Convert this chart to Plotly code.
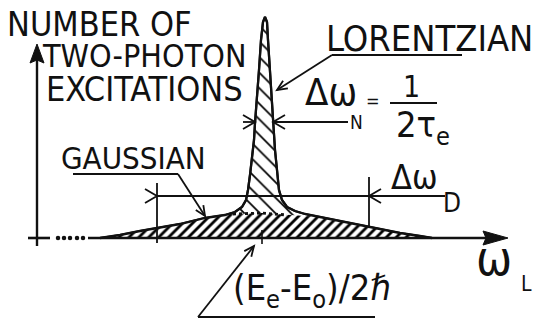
import math
import plotly.graph_objects as go

# Line profile: laser detuning from the two-photon resonance vs. number of excitations
detuning = [-162, -142, -122, -105, -82, -57, -37, -27, -20, -16, -14, -12, -10, -8, -7, -5,
            -3, -1, 1, 3, 5, 6, 8, 10, 11, 13, 15, 17, 20, 25, 33, 43, 58, 78, 98, 118,
            138, 158, 170]
excitations = [0, 3, 7, 10, 14, 20, 23, 26, 31, 38, 48, 63, 78, 98, 115, 138, 168, 198,
               216, 221, 216, 198, 168, 138, 115, 88, 68, 48, 38, 31, 27, 24, 21, 17, 13,
               9, 5, 2, 0]

# Doppler-broadened (Gaussian) pedestal underneath the narrow Lorentzian peak
gauss_detuning = [-162, -142, -122, -105, -82, -57, -29, 0, 25, 43, 58, 78, 98, 118, 138,
                  158, 170]
gauss_excitations = [0, 3, 7, 10, 14, 20, 24, 25, 23, 22, 21, 17, 13, 9, 5, 2, 0]

W, H = 533, 321
X0, Y0 = 262, 238          # page position of the resonance on the frequency axis
FONT = "Liberation Sans Narrow, Arial Narrow, DejaVu Sans Condensed, DejaVu Sans, sans-serif"
INK = "#111111"


def P(px, py):
    """Page position -> (detuning, excitations) coordinates."""
    return px - X0, Y0 - py


fig = go.Figure()

# Lorentzian peak (sparse hatch)
fig.add_trace(go.Scatter(
    x=detuning, y=excitations, mode="lines", fill="toself",
    fillpattern=dict(shape="\\", fgcolor="black", bgcolor="white", size=11,
                     solidity=0.16, fgopacity=1),
    line=dict(color=INK, width=2.2), hoverinfo="skip"))

# Gaussian pedestal (dense hatch)
fig.add_trace(go.Scatter(
    x=gauss_detuning, y=gauss_excitations, mode="lines", fill="toself",
    fillpattern=dict(shape="/", fgcolor="black", bgcolor="white", size=7,
                     solidity=0.4, fgopacity=1),
    line=dict(color="rgba(0,0,0,0)", width=0), hoverinfo="skip"))

# dotted top of the pedestal across the peak
gx = [d for d in gauss_detuning if -30 <= d <= 26]
gy = [e for d, e in zip(gauss_detuning, gauss_excitations) if -30 <= d <= 26]
fig.add_trace(go.Scatter(x=gx, y=gy, mode="lines",
                         line=dict(color=INK, width=2.8, dash="dot"), hoverinfo="skip"))

# profile outline on top of the hatching
fig.add_trace(go.Scatter(x=detuning, y=excitations, mode="lines",
                         line=dict(color=INK, width=2.3), hoverinfo="skip"))

# dotted start of the frequency axis
dots = [58, 64, 70, 77, 83]
fig.add_trace(go.Scatter(x=[P(d, 0)[0] for d in dots], y=[0] * len(dots), mode="markers",
                         marker=dict(color=INK, size=4.5), hoverinfo="skip"))

shapes = []


def seg(p1, p2, w=2.0):
    a, b = P(*p1), P(*p2)
    shapes.append(dict(type="line", x0=a[0], y0=a[1], x1=b[0], y1=b[1],
                       xref="x", yref="y", line=dict(color=INK, width=w), layer="above"))


def poly(points, w=1.8, closed=False):
    pts = [P(*p) for p in points]
    path = "M " + " L ".join(f"{x},{y}" for x, y in pts) + (" Z" if closed else "")
    shape = dict(type="path", path=path, xref="x", yref="y",
                 line=dict(color=INK, width=w), layer="above")
    if closed:
        shape["fillcolor"] = INK
    shapes.append(shape)


def leader(tail, tip, head=11, spread=0.42, w=1.8):
    """Straight leader line ending in an open V head."""
    seg(tail, tip, w)
    ang = math.atan2(tail[1] - tip[1], tail[0] - tip[0])
    left = (tip[0] + head * math.cos(ang + spread), tip[1] + head * math.sin(ang + spread))
    right = (tip[0] + head * math.cos(ang - spread), tip[1] + head * math.sin(ang - spread))
    poly([left, tip, right], w)


# coordinate axes
seg((88, 238), (490, 238), 2.4)
poly([(508, 238), (483, 231), (486, 238), (483, 245)], w=1, closed=True)
seg((37, 246), (37, 60), 2.4)
poly([(37, 44), (30, 63), (37, 60), (44, 63)], w=1, closed=True)
seg((28, 238), (50, 238), 2.6)        # crossing tick at origin
seg((262, 230), (262, 244), 1.6)      # resonance mark

# natural linewidth marker
poly([(243, 115), (255, 122), (243, 129)])
seg((243, 122), (255, 122), 1.8)
poly([(285, 115), (273, 122), (285, 129)])
seg((273, 122), (348, 122), 1.8)

# Doppler width marker
seg((157, 183), (157, 243), 1.8)
seg((369, 177), (369, 228), 1.8)
seg((157, 196), (445, 196), 1.8)
poly([(145, 189), (157, 196), (145, 203)])
poly([(381, 189), (369, 196), (381, 203)])

# leaders: underline + arrow
seg((332, 55), (462, 55), 1.8)
leader((332, 55), (277, 90))
seg((73, 174), (178, 174), 1.8)
leader((178, 174), (205, 216))
seg((198, 317), (375, 317), 1.8)
leader((198, 317), (254, 246))

# fraction bar
seg((390, 103), (437, 103), 1.8)

annotations = []


def label(txt, px, py, size, anchor="center"):
    x, y = P(px, py)
    annotations.append(dict(x=x, y=y, xref="x", yref="y", text=txt, showarrow=False,
                            xanchor=anchor, yanchor="middle",
                            font=dict(family=FONT, size=size, color=INK)))


label("NUMBER OF", 99, 24, 34)
label("TWO-PHOTON", 144, 56, 32)
label("EXCITATIONS", 144, 89, 34)
label("LORENTZIAN", 429, 38, 36)
label("GAUSSIAN", 133, 158, 31)
label("Δω", 331, 92, 38)
label("N", 356, 122, 19)
label("=", 373, 100, 18)
label("1", 411, 86, 30)
label("2τ<sub>e</sub>", 423, 127, 36)
label("Δω", 414, 177, 34)
label("D", 452, 203, 26)
label("ω", 494, 258, 48)
label("L", 526, 284, 21)
label("(E<sub>e</sub>-E<sub>o</sub>)/2ℏ", 231, 290, 36, anchor="left")

fig.update_layout(
    width=W, height=H, margin=dict(l=0, r=0, t=0, b=0),
    paper_bgcolor="white", plot_bgcolor="white", showlegend=False,
    shapes=shapes, annotations=annotations,
    xaxis=dict(range=[-X0, W - X0], visible=False, fixedrange=True),
    yaxis=dict(range=[Y0 - H, Y0], visible=False, fixedrange=True),
)

fig.write_html("out.html", config={"displayModeBar": False})
